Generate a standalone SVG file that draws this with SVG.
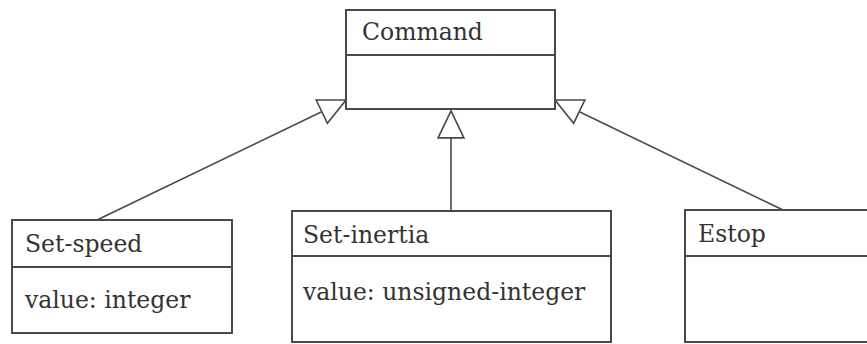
<svg xmlns="http://www.w3.org/2000/svg" width="867" height="344" viewBox="0 0 867 344">
<style>
.box{fill:#fff;stroke:#4a4a4a;stroke-width:2}
.div{stroke:#4a4a4a;stroke-width:2}
.t{font-family:"DejaVu Serif","Liberation Serif",serif;font-size:23.5px;fill:#333}
.edge{stroke:#4a4a4a;stroke-width:1.6;fill:none}
</style>
<defs>
<marker id="tri" markerUnits="userSpaceOnUse" markerWidth="30" markerHeight="30" viewBox="-1 -1 29 28" refX="26" refY="12.5" orient="auto">
<path d="M0,0 L26,12.5 L0,25 Z" fill="#fff" stroke="#4a4a4a" stroke-width="1.6"/>
</marker>
</defs>
<rect width="867" height="344" fill="#fff"/>
<g id="connectors">
<line class="edge" x1="97" y1="220" x2="346" y2="100" marker-end="url(#tri)"/>
<line class="edge" x1="451" y1="211" x2="451" y2="111" marker-end="url(#tri)"/>
<line class="edge" x1="783" y1="210" x2="555" y2="100" marker-end="url(#tri)"/>
</g>
<g id="command">
<rect class="box" x="346" y="10" width="209" height="99"/>
<line class="div" x1="346" y1="55" x2="555" y2="55"/>
<text class="t" x="362" y="40">Command</text>
</g>
<g id="set-speed">
<rect class="box" x="12" y="220" width="220" height="113"/>
<line class="div" x1="12" y1="267" x2="232" y2="267"/>
<text class="t" x="25" y="252">Set-speed</text>
<text class="t" x="25" y="308">value: integer</text>
</g>
<g id="set-inertia">
<rect class="box" x="292" y="211" width="319" height="131"/>
<line class="div" x1="292" y1="256" x2="611" y2="256"/>
<text class="t" x="303" y="243">Set-inertia</text>
<text class="t" x="303" y="300">value: unsigned-integer</text>
</g>
<g id="estop">
<rect class="box" x="685" y="210" width="200" height="132"/>
<line class="div" x1="685" y1="256" x2="867" y2="256"/>
<text class="t" x="698" y="242">Estop</text>
</g>
</svg>
